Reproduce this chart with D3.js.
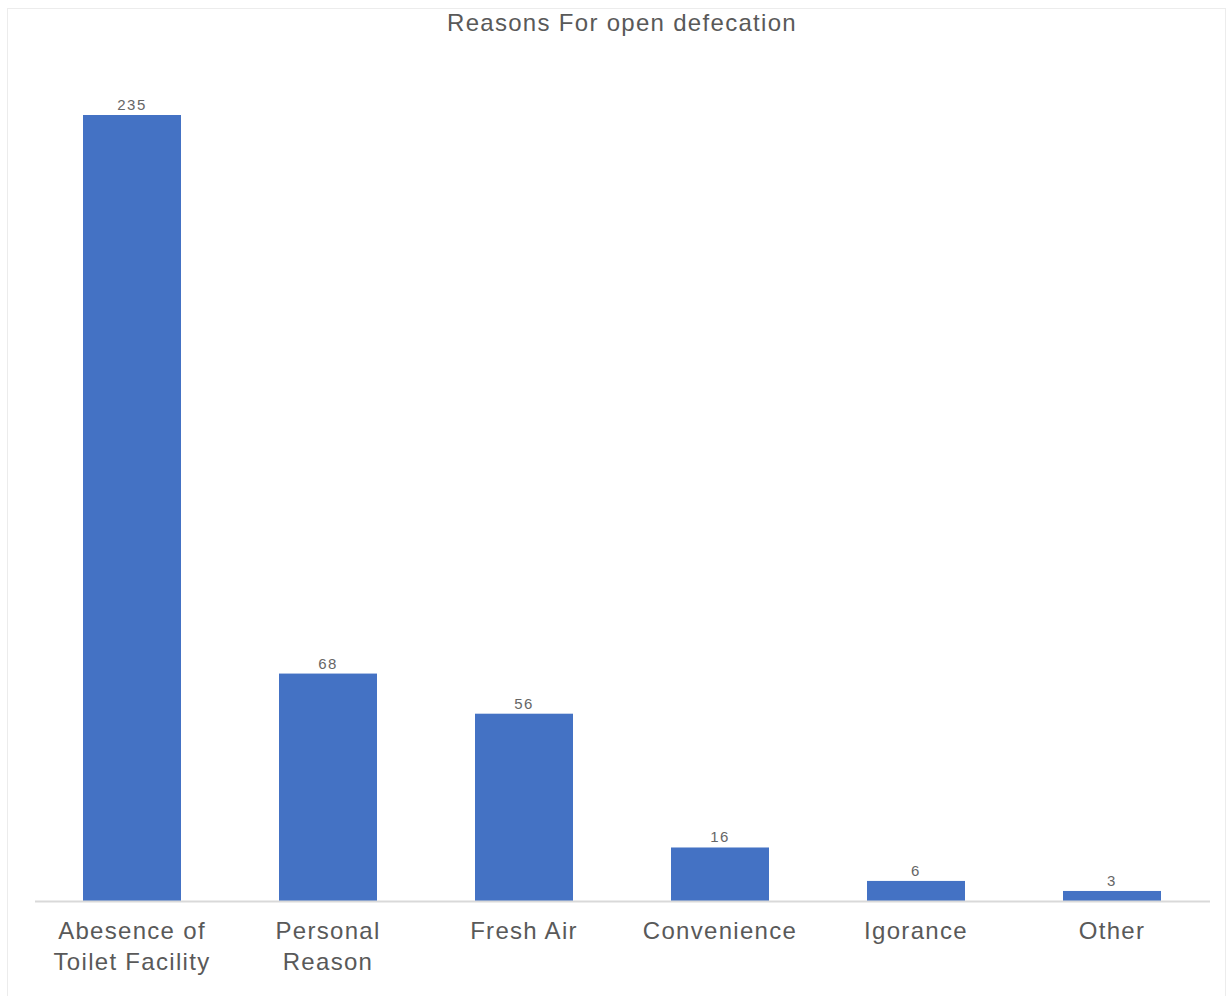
<!DOCTYPE html>
<html>
<head>
<meta charset="utf-8">
<script src="https://cdn.jsdelivr.net/npm/d3@7"></script>
<style>
	body { margin: 0; background: #fff; }
	svg { font-family: "Liberation Sans", Arial, sans-serif; }
</style>
</head>
<body>
<div id="chart"></div>
<script>
const categories = [
	['Abesence of', 'Toilet Facility'],
	['Personal', 'Reason'],
	['Fresh Air'],
	['Convenience'],
	['Igorance'],
	['Other'],
];
const counts = [235, 68, 56, 16, 6, 3];
const chartTitle = 'Reasons For open defecation';

const width = 1230;
const height = 996;
const margin = { top: 115, right: 20, bottom: 95, left: 34 };
const baseline = height - margin.bottom;

const keys = categories.map((c) => c.join(' '));

const xScale = d3.scaleBand()
		.domain(keys)
		.range([margin.left, margin.left + 6 * 196])
		.paddingInner(0.5)
		.paddingOuter(0.25);
const yScale = d3.scaleLinear()
		.domain([0, 235])
		.range([baseline, margin.top]);

const svg = d3.select('#chart').append('svg')
		.attr('width', width)
		.attr('height', height);

// faint chart-area frame
svg.append('rect')
		.attr('x', 7.5)
		.attr('y', 8.5)
		.attr('width', 1218)
		.attr('height', 1000)
		.style('fill', 'none')
		.style('stroke', '#ececec');

svg.append('text')
		.attr('x', 622)
		.attr('y', 31)
		.style('text-anchor', 'middle')
		.style('font-size', '24px')
		.style('letter-spacing', '1.3px')
		.style('fill', '#595959')
		.text(chartTitle);

svg.selectAll('.bar')
		.data(counts)
	.enter().append('rect')
		.attr('class', 'bar')
		.attr('x', (d, i) => xScale(keys[i]))
		.attr('y', (d) => yScale(d))
		.attr('width', xScale.bandwidth())
		.attr('height', (d) => baseline - yScale(d))
		.style('fill', '#4472c4');

svg.selectAll('.value')
		.data(counts)
	.enter().append('text')
		.attr('class', 'value')
		.attr('x', (d, i) => xScale(keys[i]) + xScale.bandwidth() / 2)
		.attr('y', (d) => yScale(d) - 5)
		.style('text-anchor', 'middle')
		.style('font-size', '15px')
		.style('letter-spacing', '1.5px')
		.style('fill', '#666')
		.text((d) => d);

const xAxis = d3.axisBottom(xScale).tickSize(0).tickFormat('');
const axisG = svg.append('g')
		.attr('transform', `translate(0, ${baseline})`)
		.call(xAxis);
axisG.select('.domain')
		.attr('d', `M${margin.left + 1},0.5H${margin.left + 6 * 196}`)
		.style('stroke', '#d9d9d9')
		.style('stroke-width', 2);

const labels = svg.selectAll('.cat')
		.data(categories)
	.enter().append('text')
		.attr('class', 'cat')
		.attr('x', (d, i) => xScale(keys[i]) + xScale.bandwidth() / 2)
		.attr('y', baseline + 38)
		.style('text-anchor', 'middle')
		.style('font-size', '24px')
		.style('letter-spacing', '1.3px')
		.style('fill', '#595959');

labels.selectAll('tspan')
		.data((d) => d)
	.enter().append('tspan')
		.attr('x', function() { return d3.select(this.parentNode).attr('x'); })
		.attr('dy', (d, i) => i === 0 ? 0 : 31)
		.text((d) => d);
</script>
</body>
</html>
